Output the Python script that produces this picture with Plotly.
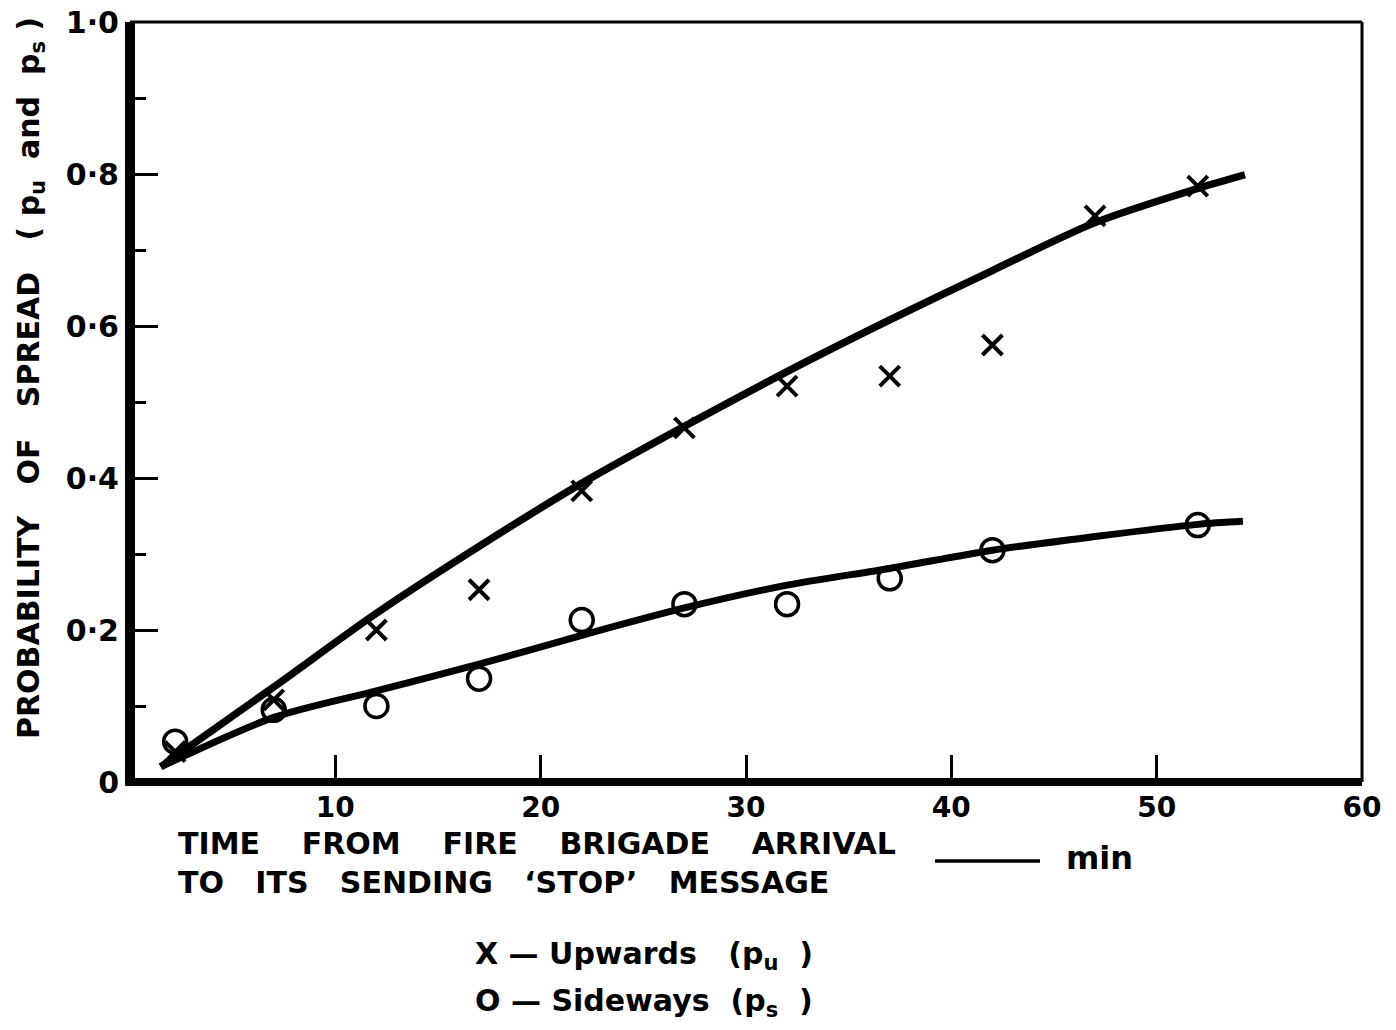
import plotly.graph_objects as go

# ---- data ----
up_pts_x = [2.2, 7, 12, 17, 22, 27, 32, 37, 42, 47, 52]
up_pts_y = [0.04, 0.108, 0.20, 0.253, 0.383, 0.466, 0.521, 0.534, 0.575, 0.745, 0.784]

side_pts_x = [2.2, 7, 12, 17, 22, 27, 32, 37, 42, 52]
side_pts_y = [0.053, 0.095, 0.10, 0.136, 0.213, 0.234, 0.234, 0.268, 0.305, 0.338]

up_fit_x = [1.5, 7, 12, 17, 22, 27, 32, 37, 42, 47, 52, 54.3]
up_fit_y = [0.02, 0.125, 0.222, 0.31, 0.393, 0.468, 0.54, 0.608, 0.673, 0.736, 0.781, 0.799]

side_fit_x = [1.5, 7, 12, 17, 22, 27, 32, 37, 42, 47, 52, 54.2]
side_fit_y = [0.02, 0.085, 0.12, 0.155, 0.193, 0.229, 0.259, 0.281, 0.305, 0.323, 0.339, 0.343]

x_tickvals = [10, 20, 30, 40, 50, 60]
x_ticktext = ["10", "20", "30", "40", "50", "60"]
y_tickvals = [0, 0.2, 0.4, 0.6, 0.8, 1.0]
y_ticktext = ["0", "0·2", "0·4", "0·6", "0·8", "1·0"]
y_minor = [0.1, 0.3, 0.5, 0.7, 0.9]

FONT = "DejaVu Sans"
W, H = 1396, 1030
L, R, T, B = 130, 34, 22, 248
PW, PH = W - L - R, H - T - B
NB = "\u00a0"


def px(xp):
    return (xp - L) / PW


def py(yp):
    return (H - B - yp) / PH


fig = go.Figure()
fig.add_trace(go.Scatter(x=up_fit_x, y=up_fit_y, mode="lines",
                         line=dict(color="black", width=7.5, shape="spline", smoothing=0.8),
                         showlegend=False))
fig.add_trace(go.Scatter(x=side_fit_x, y=side_fit_y, mode="lines",
                         line=dict(color="black", width=7, shape="spline", smoothing=0.8),
                         showlegend=False))
fig.add_trace(go.Scatter(x=up_pts_x, y=up_pts_y, mode="markers",
                         marker=dict(symbol="x-thin", size=20, color="black",
                                     line=dict(color="black", width=4)),
                         showlegend=False))
fig.add_trace(go.Scatter(x=side_pts_x, y=side_pts_y, mode="markers",
                         marker=dict(symbol="circle-open", size=23, color="black",
                                     line=dict(color="black", width=3.5)),
                         showlegend=False))

g1 = NB * 4
g2 = NB * 3
xtitle = ("TIME" + g1 + "FROM" + g1 + "FIRE" + g1 + "BRIGADE" + g1 + "ARRIVAL<br>"
          "TO" + g2 + "ITS" + g2 + "SENDING" + g2 + "‘STOP’" + g2 + "MESSAGE")
ytitle = ("PROBABILITY" + NB * 3 + "OF" + NB * 3 + "SPREAD" + NB * 3 + "("
          + NB + "p<sub>u</sub>" + NB * 2 + "and" + NB * 2 + "p<sub>s</sub>" + NB + ")")

fig.update_layout(
    template="none",
    width=W, height=H, autosize=False,
    margin=dict(l=L, r=R, t=T, b=B, pad=0),
    paper_bgcolor="white", plot_bgcolor="white",
    font=dict(family=FONT, color="black", size=28, weight="bold"),
    xaxis=dict(range=[0, 60], showgrid=False, zeroline=False, showline=False,
               automargin=False,
               tickvals=x_tickvals, ticktext=x_ticktext, ticks="inside",
               ticklen=27, tickwidth=3, tickcolor="black",
               tickfont=dict(size=28, weight="bold"), ticklabelstandoff=6),
    yaxis=dict(range=[0, 1.0], showgrid=False, zeroline=False, showline=False,
               automargin=False,
               tickvals=y_tickvals, ticktext=y_ticktext, ticks="inside",
               ticklen=28, tickwidth=3, tickcolor="black",
               tickfont=dict(size=30, weight="bold"), ticklabelstandoff=10,
               minor=dict(tickvals=y_minor, ticks="inside", ticklen=16,
                          tickwidth=3, tickcolor="black", showgrid=False)),
    shapes=[
        dict(type="line", xref="paper", yref="paper", x0=0, x1=0, y0=-0.005, y1=1,
             line=dict(color="black", width=10)),
        dict(type="line", xref="paper", yref="paper", x0=-0.003, x1=1, y0=0, y1=0,
             line=dict(color="black", width=8)),
        dict(type="line", xref="paper", yref="paper", x0=0, x1=1, y0=1, y1=1,
             line=dict(color="black", width=3)),
        dict(type="line", xref="paper", yref="paper", x0=1, x1=1, y0=0, y1=1,
             line=dict(color="black", width=3)),
        dict(type="line", xref="paper", yref="paper", x0=px(935), x1=px(1040),
             y0=py(861), y1=py(861), line=dict(color="black", width=3.5)),
    ],
    annotations=[
        dict(xref="paper", yref="paper", x=px(30), y=py(378), textangle=-90,
             text=ytitle, showarrow=False, font=dict(size=30, weight="bold"),
             xanchor="center", yanchor="middle"),
        dict(xref="paper", yref="paper", x=px(176), y=py(863),
             text=xtitle, showarrow=False, font=dict(size=30, weight="bold"),
             align="left", xanchor="left", yanchor="middle"),
        dict(xref="paper", yref="paper", x=px(1064), y=py(858), text="min",
             showarrow=False, font=dict(size=32, weight="bold"),
             xanchor="left", yanchor="middle"),
        dict(xref="paper", yref="paper", x=px(473), y=py(955),
             text="X — Upwards" + NB * 3 + "(p<sub>u</sub>" + NB * 2 + ")",
             showarrow=False, font=dict(size=30, weight="bold"),
             xanchor="left", yanchor="middle"),
        dict(xref="paper", yref="paper", x=px(473), y=py(1002),
             text="O — Sideways" + NB * 2 + "(p<sub>s</sub>" + NB * 2 + ")",
             showarrow=False, font=dict(size=30, weight="bold"),
             xanchor="left", yanchor="middle"),
    ],
)

fig.write_html(
    "out.html",
    config={"displayModeBar": False},
    post_script="document.body.style.margin='0';document.body.style.overflow='hidden';",
)
